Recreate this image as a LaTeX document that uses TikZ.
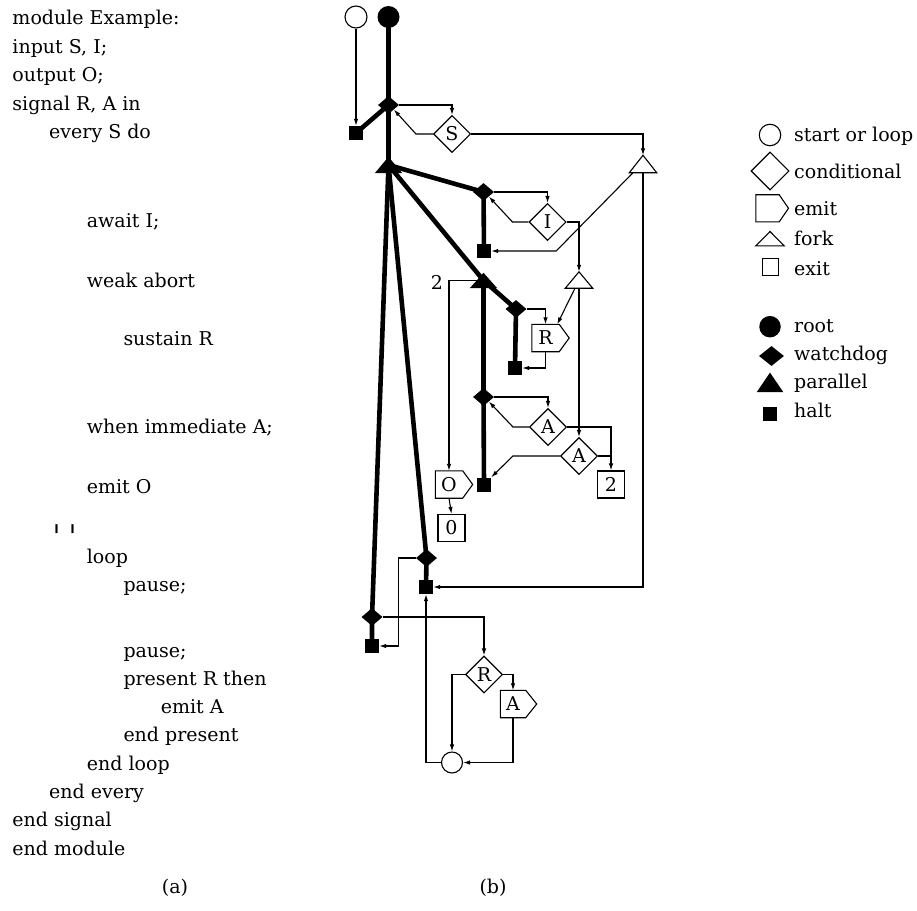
\documentclass[tikz,border=0pt]{standalone}
\usepackage{fontspec}
\usepackage{graphicx}
\setmainfont{DejaVu Serif}
\usetikzlibrary{arrows.meta,shapes.geometric,calc,backgrounds}
\newcommand\emitpath[2][10pt]{\draw[pl] (#2.north west) -- (#2.north east) -- ([xshift=#1]#2.east) -- (#2.south east) -- (#2.south west) -- cycle;}
\newcommand\forkpath[1]{\draw[pl,line join=miter] (#1.south west) -- (#1.south east) -- (#1.north) -- cycle;}
\newcommand\partri[1]{\fill (#1.south west) -- (#1.south east) -- (#1.north) -- cycle;}
\newcommand\shortbar{\raisebox{2.1pt}{\scalebox{1.4}[0.47]{|}}}
\begin{document}
\begin{tikzpicture}[x=1pt,y=-1pt,
  fnt/.style={font=\fontsize{19}{22}\selectfont},
  txt/.style={fnt,anchor=base west,inner sep=0},
  lab/.style={fnt,inner sep=0},
  pl/.style={line width=1.1pt},
  ln/.style={line width=1.1pt,-{Latex[length=7pt,width=4.5pt]}},
  thk/.style={line width=4.6pt},
  cond/.style={shape=diamond,draw,line width=1.1pt,fill=white,minimum width=37pt,minimum height=37pt,inner sep=0,fnt},
  wd/.style={shape=diamond,fill=black,minimum width=21pt,minimum height=18pt,inner sep=0},
  halt/.style={rectangle,fill=black,minimum size=14pt,inner sep=0},
  exitbox/.style={rectangle,draw,line width=1.1pt,fill=white,minimum size=27pt,inner sep=0,fnt},
  emitbox/.style={rectangle,minimum width=27pt,minimum height=27pt,inner sep=0,fnt},
  tribox/.style={rectangle,minimum width=27pt,minimum height=16pt,inner sep=0},
  openc/.style={circle,draw,line width=1.1pt,fill=white,minimum size=22pt,inner sep=0},
  rootc/.style={circle,fill=black,minimum size=22pt,inner sep=0}]
\useasboundingbox (0,0) rectangle (917,910);

% ---- program text (a)
\node[txt] (t1) at (12.3,24.3) {module Example:};
\node[txt] (t2) at (12.3,53) {input S, I;};
\node[txt] (t3) at (12.3,81.7) {output O;};
\node[txt] (t4) at (12.3,110) {signal R, A in};
\node[txt] (t5) at (49,138.5) {every S do};
\node[txt] (t6) at (86.7,227.3) {await I;};
\node[txt] (t7) at (86.7,287.7) {weak abort};
\node[txt] (t8) at (123.3,345) {sustain R};
\node[txt] (t9) at (86.7,433.3) {when immediate A;};
\node[txt] (t10) at (86.7,493.3) {emit O};
\node[txt] (t11) at (52,533.3) {\shortbar\hspace{7pt}\shortbar};
\node[txt] (t12) at (86.7,563.3) {loop};
\node[txt] (t13) at (123.3,591.7) {pause;};
\node[txt] (t14) at (123.3,657) {pause;};
\node[txt] (t15) at (123.3,685) {present R then};
\node[txt] (t16) at (160.7,713.3) {emit A};
\node[txt] (t17) at (123.3,741.7) {end present};
\node[txt] (t18) at (86.7,770) {end loop};
\node[txt] (t19) at (49,798.3) {end every};
\node[txt] (t20) at (12.3,826.7) {end signal};
\node[txt] (t21) at (12.3,855) {end module};
\node[lab] (capa) at (175,888) {(a)};
\node[lab] (capb) at (493,888) {(b)};

% ---- graph (b)
\node[openc] (start) at (356,17) {};
\node[rootc] (root) at (388.5,17) {};
\node[wd] (wd1) at (388.5,105) {};
\node[halt] (h1) at (356,133) {};
\node[cond] (S) at (452,134) {S};
\node[tribox,minimum height=17pt] (f1) at (643,164) {};
\node[tribox] (p1) at (388.5,165) {};
\node[wd] (wd2) at (483.5,192) {};
\node[halt] (h2) at (484,251) {};
\node[cond] (I) at (547.5,222) {I};
\node[tribox] (f2) at (579,280) {};
\node[tribox,minimum height=15pt] (p2) at (483.5,280.5) {};
\node[lab] (lbl2) at (437,282) {2};
\node[wd] (wd3) at (516,309) {};
\node[emitbox] (R) at (545.5,338) {R};
\node[halt] (h3) at (515,368) {};
\node[wd] (wd4) at (483.5,397) {};
\node[cond] (A1) at (548,427) {A};
\node[cond] (A2) at (579,456) {A};
\node[exitbox] (ex2) at (611,484.5) {2};
\node[emitbox] (O) at (449,484.5) {O};
\node[halt] (h4) at (484,484.5) {};
\node[exitbox] (ex0) at (451.5,528) {0};
\node[wd] (wd5) at (426.5,558) {};
\node[halt] (h5) at (426,587) {};
\node[wd] (wd6) at (372,617) {};
\node[halt] (h6) at (372,646) {};
\node[cond] (Rc) at (484,674.5) {R};
\node[emitbox,minimum width=25pt] (Aem) at (513,704) {A};
\node[openc,minimum size=21pt] (loop) at (452,762.5) {};

\emitpath{R}
\emitpath{O}
\emitpath[11pt]{Aem}
\forkpath{f1}
\forkpath{f2}
\partri{p1}
\partri{p2}

\begin{scope}[on background layer]
  % thick tree
  \draw[thk] (root.center) -- (wd1.center) -- (p1.center);
  \draw[thk] (wd1.center) -- (h1.center);
  \draw[thk] (p1.center) -- (wd2.center) -- (h2.center);
  \draw[thk] (p1.center) -- (p2.center);
  \draw[thk] (p2.center) -- (wd3.center) -- (h3.center);
  \draw[thk] (p2.center) -- (wd4.center) -- (h4.center);
  \draw[thk] (p1.center) -- (wd5.center) -- (h5.center);
  \draw[thk] (p1.center) -- (wd6.center) -- (h6.center);
  % thin connectors
  \draw[ln] (start.south) -- (h1.north);
  \draw[ln] (wd1.east) -| (S.north);
  \draw[ln] (S.west) -- ++(-17,0) -- (wd1.south east);
  \draw[ln] (S.east) -| (f1.north);
  \draw[ln] ([xshift=-10pt]f1.south) -- ([xshift=65pt]h2.east) -- (h2.east);
  \draw[ln] (f1.south) |- (h5.east);
  \draw[ln] (wd2.east) -| (I.north);
  \draw[ln] (I.west) -- ++(-16,0) -- (wd2.south east);
  \draw[ln] (I.east) -| (f2.north);
  \draw[ln] ([xshift=-4pt]f2.south) -- ([xshift=-2pt]R.north east);
  \draw[ln] (f2.south) -- (A2.north);
  \draw[ln] (wd3.east) -| (R.north);
  \draw[ln] (R.south) |- (h3.east);
  \draw[ln] (wd4.east) -| (A1.north);
  \draw[ln] (A1.west) -- ++(-16,0) -- (wd4.south east);
  \draw[ln] (A1.east) -| (ex2.north);
  \draw[pl] (A2.east) -- (A2.east -| ex2.north);
  \draw[ln] (A2.west) -- ++(-47,0) -- (h4.north east);
  \draw[ln] (p2.center) -| (O.north);
  \draw[ln] (O.south) -- (ex0.north);
  \draw[ln] (wd5.west) -- ++(-17,0) |- (h6.east);
  \draw[ln] (wd6.east) -| (Rc.north);
  \draw[ln] (Rc.west) -| (loop.north);
  \draw[ln] (Rc.east) -| (Aem.north);
  \draw[ln] (Aem.south) |- (loop.east);
  \draw[ln] (loop.west) -| (h5.south);
\end{scope}

% ---- legend
\node[openc,minimum size=21.5pt] (lg1) at (770,135) {};
\node[cond,minimum width=38pt,minimum height=38pt] (lg2) at (770,171) {};
\node[emitbox,minimum width=23pt,minimum height=26.7pt] (lg3) at (767.5,208.3) {};
\emitpath[9.3pt]{lg3}
\node[tribox,minimum width=28pt,minimum height=14pt] (lg4) at (770,238.7) {};
\forkpath{lg4}
\node[exitbox,minimum size=16.5pt] (lg5) at (770.3,267) {};
\node[rootc,minimum size=21.5pt] (lg6) at (770,326.7) {};
\node[wd,minimum width=25pt,minimum height=20pt] (lg7) at (771.5,356) {};
\node[tribox,minimum width=26pt,minimum height=19pt] (lg8) at (770,382.3) {};
\partri{lg8}
\node[halt] (lg9) at (770,414) {};
\node[txt] (lt1) at (794,141) {start or loop};
\node[txt] (lt2) at (794,178) {conditional};
\node[txt] (lt3) at (794,215) {emit};
\node[txt] (lt4) at (794,245.7) {fork};
\node[txt] (lt5) at (794,275) {exit};
\node[txt] (lt6) at (794,332) {root};
\node[txt] (lt7) at (794,360.5) {watchdog};
\node[txt] (lt8) at (794,388.5) {parallel};
\node[txt] (lt9) at (794,417) {halt};
\end{tikzpicture}
\end{document}
